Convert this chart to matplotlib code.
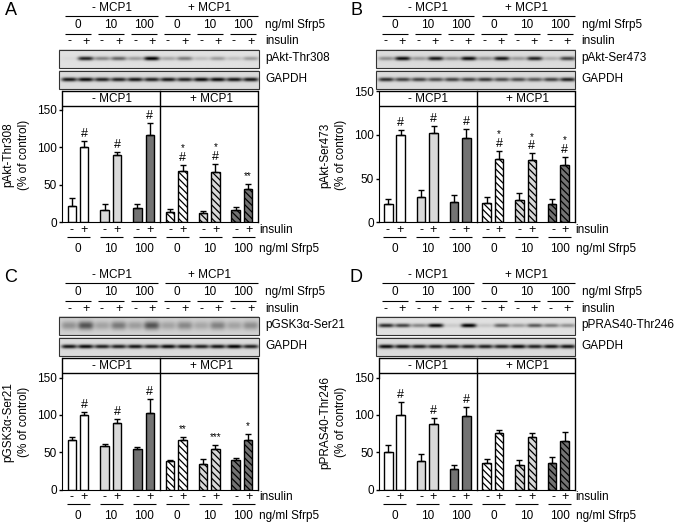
import matplotlib
matplotlib.use("Agg")
import matplotlib.pyplot as plt
import numpy as np
from matplotlib.patches import Rectangle

plt.rcParams["font.family"] = ["Liberation Sans", "DejaVu Sans"]
plt.rcParams["hatch.linewidth"] = 0.9

W, H = 677, 526
FS = 8.5

DOSES = ["0", "10", "100", "0", "10", "100"]
FILLS = ["white", "#d9d9d9", "#737373"]

# bar heights and error bar tops, pairs of (-, +) insulin for each dose
A_VALS = [22, 100, 17, 90, 19, 116, 14, 68, 12, 67, 16, 44]
A_TOPS = [32, 109, 25, 94, 25, 133, 18, 77, 15, 78, 20, 51]
B_VALS = [21, 100, 29, 102, 23, 96, 22, 73, 25, 71, 21, 66]
B_TOPS = [27, 106, 37, 110, 31, 107, 29, 82, 34, 79, 27, 75]
C_VALS = [67, 100, 58, 89, 54, 103, 38, 66, 34, 54, 39, 67]
C_TOPS = [70, 104, 61, 94, 57, 121, 40, 71, 41, 60, 42, 75]
D_VALS = [50, 100, 38, 88, 27, 99, 35, 76, 33, 71, 35, 65]
D_TOPS = [60, 118, 48, 96, 33, 111, 41, 80, 39, 76, 44, 77]

# significance marks, bar index -> (hash, stars)
A_MARKS = {1: ("#", ""), 3: ("#", ""), 5: ("#", ""), 7: ("#", "*"), 9: ("#", "*"), 11: ("", "**")}
B_MARKS = {1: ("#", ""), 3: ("#", ""), 5: ("#", ""), 7: ("#", "*"), 9: ("#", "*"), 11: ("#", "*")}
C_MARKS = {1: ("#", ""), 3: ("#", ""), 5: ("#", ""), 7: ("", "**"), 9: ("", "***"), 11: ("", "*")}
D_MARKS = {1: ("#", ""), 3: ("#", ""), 5: ("#", "")}

# blot band strength per lane
A_BLOT = [0.03, 0.85, 0.4, 0.55, 0.3, 1.0, 0.25, 0.45, 0.15, 0.3, 0.15, 0.3]
A_GAPDH = [0.9, 0.95, 0.85, 0.85, 0.9, 0.85, 0.9, 0.85, 0.95, 0.95, 0.9, 0.9]
B_BLOT = [0.35, 0.95, 0.3, 0.9, 0.35, 0.95, 0.35, 0.9, 0.3, 0.85, 0.2, 0.7]
B_GAPDH = [0.8, 0.7, 0.7, 0.65, 0.7, 0.7, 0.75, 0.65, 0.65, 0.6, 0.7, 0.85]
C_BLOT = [0.3, 0.6, 0.22, 0.42, 0.25, 0.6, 0.22, 0.35, 0.2, 0.38, 0.22, 0.32]
C_GAPDH = [0.9, 0.95, 0.85, 0.85, 0.9, 0.85, 0.95, 0.9, 0.85, 0.9, 1.0, 0.85]
D_BLOT = [0.8, 0.7, 0.4, 0.95, 0.1, 1.0, 0.12, 0.55, 0.3, 0.6, 0.45, 0.35]
D_GAPDH = [0.95, 0.9, 0.85, 0.85, 0.85, 0.85, 0.85, 0.85, 0.95, 0.85, 0.9, 0.9]

PANELS = [
    ("A", 11, 0, 0, 110.0, "pAkt-Thr308", A_VALS, A_TOPS, A_MARKS, A_BLOT, A_GAPDH, 0.88, 0.0),
    ("B", 356, 316.5, 0, 91.3, "pAkt-Ser473", B_VALS, B_TOPS, B_MARKS, B_BLOT, B_GAPDH, 0.86, 0.0),
    ("C", 11, 0, 267.2, 377.7, "pGSK3α-Ser21", C_VALS, C_TOPS, C_MARKS, C_BLOT, C_GAPDH, 0.82, 1.0),
    ("D", 356, 316.5, 267.2, 377.7, "pPRAS40-Thr246", D_VALS, D_TOPS, D_MARKS, D_BLOT, D_GAPDH, 0.88, 0.0),
]


def blot(ov, x0, x1, y0, y1, dx, strengths, bg, blur):
    nx, ny = int(x1 - x0) * 2, int(y1 - y0) * 2
    xs = np.linspace(x0, x1, nx)
    ys = np.linspace(y0, y1, ny)
    xx, yy = np.meshgrid(xs, ys)
    img = np.full(xx.shape, bg)
    yc = (y0 + y1) / 2
    for i, s in enumerate(strengths):
        xc = 69 + dx + 16.53 * i
        band = np.exp(-(((xx - xc) / 7.8) ** 4)) * np.exp(-(((yy - yc) / (2.0 + 2.2 * blur)) ** 2))
        img -= s * band * bg
    ov.imshow(np.clip(img, 0, 1), extent=(x0, x1, y1, y0), cmap="gray", vmin=0, vmax=1,
              aspect="auto", zorder=1)
    ov.add_patch(Rectangle((x0, y0), x1 - x0, y1 - y0, fill=False, ec="#333333", lw=0.8, zorder=2))


def hline(ov, x0, x1, y, lw=0.8):
    ov.plot([x0, x1], [y, y], color="black", lw=lw, solid_capstyle="butt", zorder=3)


def panel(fig, ov, letter, lx, dx, dy, y150, name, vals, tops, marks, band, gapdh, bg, blur):
    y0 = 222.3 + dy
    left, right = 62 + dx, 258 + dx
    ax = fig.add_axes([left / W, 1 - y0 / H, (right - left) / W, (y0 - y150) / H])
    ax.patch.set_visible(False)
    ax.set_xlim(-0.488, 5.49)
    ax.set_ylim(0, 150)
    ax.set_xticks([])
    ax.set_yticks([0, 50, 100, 150])
    ax.tick_params(axis="y", length=2.5, width=1, pad=1, labelsize=FS)
    for s in ("top", "right"):
        ax.spines[s].set_visible(False)

    # bars
    for i, (v, t) in enumerate(zip(vals, tops)):
        g = i // 2
        x = g + (-0.19 if i % 2 == 0 else 0.19)
        fill = FILLS[g % 3]
        ax.bar(x, v, 0.26, color=fill, edgecolor="black", linewidth=1.0,
               hatch="\\\\\\\\\\" if g >= 3 else None)
        ax.errorbar(x, v, yerr=[[0], [t - v]], color="black", elinewidth=1.0, capsize=2.2, capthick=1.0)
        h, st = marks.get(i, ("", ""))
        off = 5.0
        if h:
            ax.annotate(h, (x, t), xytext=(0, off), textcoords="offset points",
                        ha="center", va="center", fontsize=FS + 0.5)
            off += 6.5
        if st:
            ax.annotate(st, (x, t), xytext=(0, off + 0.5), textcoords="offset points",
                        ha="center", va="center", fontsize=FS - 1.5)

    # frame and header
    hdr_top, hdr_bot = 91 + dy, 106 + dy
    ov.plot([left, left], [hdr_top, y150], color="black", lw=1.0, zorder=3)
    ov.plot([right, right], [hdr_top, y0], color="black", lw=1.0, zorder=3)
    ov.plot([160.3 + dx] * 2, [hdr_top, y0], color="black", lw=1.0, zorder=3)
    hline(ov, left, right, hdr_top, 1.0)
    hline(ov, left, right, hdr_bot, 1.0)
    ov.text(111.7 + dx, 99 + dy, "- MCP1", ha="center", va="center", fontsize=FS)
    ov.text(211 + dx, 99 + dy, "+ MCP1", ha="center", va="center", fontsize=FS)

    # upper labels
    ov.text(lx, 10.5 + dy, letter, ha="center", va="center", fontsize=13)
    ov.text(111.7 + dx, 8 + dy, "- MCP1", ha="center", va="center", fontsize=FS)
    ov.text(210 + dx, 8 + dy, "+ MCP1", ha="center", va="center", fontsize=FS)
    hline(ov, 65 + dx, 157.5 + dx, 16 + dy)
    hline(ov, 165 + dx, 258 + dx, 16 + dy)
    for g, d in enumerate(DOSES):
        cx = 78 + 33 * g + dx
        ov.text(cx, 25 + dy, d, ha="center", va="center", fontsize=FS)
        hline(ov, cx - 13, cx + 13, 33.8 + dy)
        ov.text(cx - 9, 41.5 + dy, "-", ha="center", va="center", fontsize=FS + 0.5)
        ov.text(cx + 8, 41.5 + dy, "+", ha="center", va="center", fontsize=FS + 0.5)
        # lower labels
        ov.text(cx - 6.5, 230 + dy, "-", ha="center", va="center", fontsize=FS + 0.5)
        ov.text(cx + 6, 230 + dy, "+", ha="center", va="center", fontsize=FS + 0.5)
        hline(ov, cx - 11.5, cx + 11.5, 236.5 + dy)
        ov.text(cx, 249 + dy, d, ha="center", va="center", fontsize=FS)
    ov.text(265 + dx, 25 + dy, "ng/ml Sfrp5", va="center", fontsize=FS)
    ov.text(265 + dx, 41.5 + dy, "insulin", va="center", fontsize=FS)
    ov.text(259 + dx, 230 + dy, "insulin", va="center", fontsize=FS)
    ov.text(259 + dx, 249 + dy, "ng/ml Sfrp5", va="center", fontsize=FS)

    # blots
    blot(ov, 59 + dx, 258.8 + dx, 49.5 + dy, 68 + dy, dx, band, bg, blur)
    blot(ov, 59 + dx, 258.8 + dx, 70.5 + dy, 88.8 + dy, dx, gapdh, 0.86, 0.0)
    ov.text(265 + dx, 58 + dy, name, va="center", fontsize=FS)
    ov.text(265 + dx, 78.5 + dy, "GAPDH", va="center", fontsize=FS)

    # y label
    ov.text(16.5 + dx, 155 + dy, name + "\n(% of control)", rotation=90, ha="center", va="center",
            fontsize=FS, linespacing=1.4, multialignment="center")


def main():
    fig = plt.figure(figsize=(W / 100, H / 100), dpi=100)
    ov = fig.add_axes([0, 0, 1, 1], zorder=5)
    ov.patch.set_visible(False)
    ov.set_axis_off()

    for p in PANELS:
        panel(fig, ov, *p)

    ov.set_xlim(0, W)
    ov.set_ylim(H, 0)
    fig.savefig("out.png", dpi=100, facecolor="white")


if __name__ == "__main__":
    main()
